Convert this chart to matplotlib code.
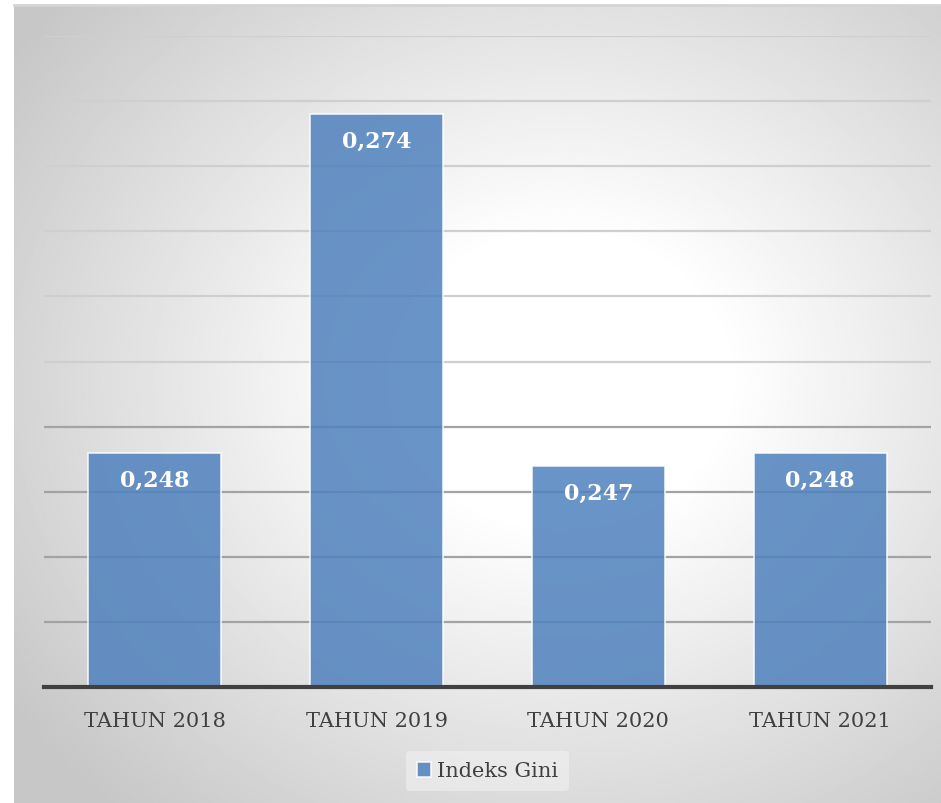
import matplotlib

matplotlib.use("Agg")
import matplotlib.pyplot as plt
import numpy as np

categories = ["TAHUN 2018", "TAHUN 2019", "TAHUN 2020", "TAHUN 2021"]
gini = [0.248, 0.274, 0.247, 0.248]
labels = ["0,248", "0,274", "0,247", "0,248"]
series_name = "Indeks Gini"

W, H = 941, 804
SERIF = ["DejaVu Serif"]
BAR = "#4f81bd"
INK = "#404040"

fig = plt.figure(figsize=(W / 100, H / 100), dpi=100)

# chart area background: radial gradient, white centre to grey edges
bg = fig.add_axes([14 / W, 0, (W - 14) / W, (H - 6) / H])
yy, xx = np.mgrid[0:1:400j, 0:1:470j]
r = np.sqrt(((xx - 0.59) / 0.6) ** 2 + ((yy - 0.53) / 0.6) ** 2)
shade = 1.0 - 0.22 * np.clip((r - 0.3) / 0.9, 0, 1)
bg.imshow(shade, cmap="gray", vmin=0, vmax=1, aspect="auto",
          extent=[0, 1, 0, 1], origin="lower", interpolation="bilinear")
bg.set_xlim(0, 1)
bg.set_ylim(0, 1)
bg.axis("off")
bg.plot([0, 1], [1, 1], color="#d4d4d4", lw=2, transform=bg.transAxes,
        clip_on=False)

ax = fig.add_axes([44 / W, (H - 688) / H, (931 - 44) / W, (688 - 37) / H])
ax.patch.set_alpha(0)
x = np.arange(len(categories))
bars = ax.bar(x, gini, width=0.6, color=BAR, alpha=0.85, edgecolor="white",
              linewidth=1.2, label=series_name, zorder=2)
ax.set_xlim(-0.5, len(categories) - 0.5)
ax.set_ylim(0.23, 0.28)

# gridlines: upper ones faint, lower ones darker, as in the original
for g in np.arange(0.235, 0.2801, 0.005):
    col = "#cfcfcf" if g > 0.2525 else "#a3a3a3"
    ax.axhline(g, color=col, lw=1.6, zorder=1)

ax.tick_params(axis="y", left=False, labelleft=False)
ax.tick_params(axis="x", bottom=False, pad=14, labelsize=15,
               labelcolor=INK)
ax.set_xticks(x)
ax.set_xticklabels(categories, family=SERIF)
for s in ("top", "left", "right"):
    ax.spines[s].set_visible(False)
ax.spines["bottom"].set_color(INK)
ax.spines["bottom"].set_linewidth(3)
ax.spines["bottom"].set_zorder(3)

for rect, lab in zip(bars, labels):
    ax.annotate(lab, (rect.get_x() + rect.get_width() / 2, rect.get_height()),
                xytext=(0, -27), textcoords="offset pixels", ha="center",
                va="center", color="white", fontsize=16, fontweight="bold",
                family=SERIF, zorder=4)

leg = ax.legend(loc="center", bbox_to_anchor=(0.5, (688 - 772) / (688 - 37)),
                frameon=True, prop={"family": SERIF, "size": 15},
                handlelength=0.7, handleheight=0.7, handletextpad=0.3,
                borderpad=0.5)
leg.get_frame().set_facecolor("#f4f4f4")
leg.get_frame().set_edgecolor("none")
leg.get_frame().set_alpha(0.5)
for t in leg.get_texts():
    t.set_color(INK)

fig.savefig("out.png", dpi=100)
